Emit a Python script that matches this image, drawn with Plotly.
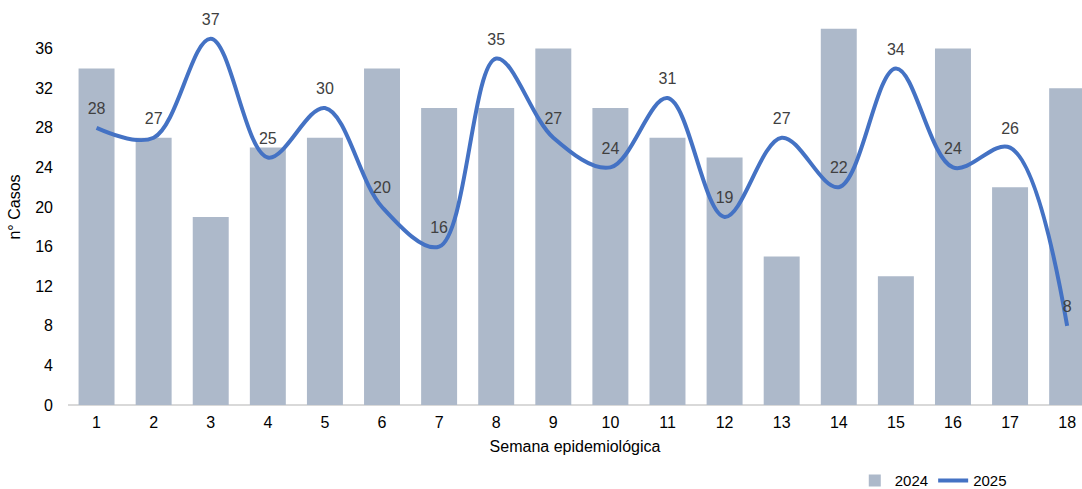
import plotly.graph_objects as go

semanas = list(range(1, 19))
casos_2024 = [34, 27, 19, 26, 27, 34, 30, 30, 36, 30, 27, 25, 15, 38, 13, 36, 22, 32]
casos_2025 = [28, 27, 37, 25, 30, 20, 16, 35, 27, 24, 31, 19, 27, 22, 34, 24, 26, 8]
y_ticks = list(range(0, 37, 4))

FONT = "Liberation Sans, Arial, sans-serif"

fig = go.Figure()
fig.add_trace(go.Bar(
    x=semanas, y=casos_2024, name="2024",
    marker=dict(color="#adb9ca", line=dict(width=0)),
))
fig.add_trace(go.Scatter(
    x=semanas, y=casos_2025, name="2025",
    mode="lines",
    line=dict(color="#4472c4", width=4, shape="spline", smoothing=1.0),
))
# value labels for 2025, lifted above the curve by an invisible marker
fig.add_trace(go.Scatter(
    x=semanas, y=casos_2025, showlegend=False, hoverinfo="skip",
    mode="markers+text",
    marker=dict(size=14, opacity=0, color="#4472c4"),
    text=[str(v) for v in casos_2025],
    textposition="top center",
    textfont=dict(family=FONT, size=16, color="#404040"),
    cliponaxis=False,
))

fig.update_layout(
    width=1082, height=489,
    margin=dict(l=68, r=0, t=9, b=84, autoexpand=False),
    paper_bgcolor="white", plot_bgcolor="white",
    bargap=0.37,
    font=dict(family=FONT, size=16, color="#000000"),
    showlegend=True,
    legend=dict(
        orientation="h", x=0.79, y=0.017, xanchor="left", yanchor="middle",
        yref="container", xref="container",
        font=dict(family=FONT, size=15, color="#000000"),
        itemwidth=30, tracegroupgap=0,
    ),
    xaxis=dict(
        range=[0.5, 18.26], tickvals=semanas, ticktext=[str(s) for s in semanas],
        showgrid=False, zeroline=False, showline=False, ticks="",
        ticklabelstandoff=6,
        tickfont=dict(family=FONT, size=16, color="#000000"),
        title=dict(text="Semana epidemiológica", standoff=10,
                   font=dict(family=FONT, size=16, color="#000000")),
    ),
    yaxis=dict(
        range=[0, 40], tickvals=y_ticks,
        showgrid=False, zeroline=True, zerolinecolor="#d9d9d9", zerolinewidth=1.5,
        showline=False, ticks="", ticklabelstandoff=14,
        tickfont=dict(family=FONT, size=16, color="#000000"),
        title=dict(text="n° Casos", standoff=10,
                   font=dict(family=FONT, size=16, color="#000000")),
    ),
)

fig.write_html("out.html")
